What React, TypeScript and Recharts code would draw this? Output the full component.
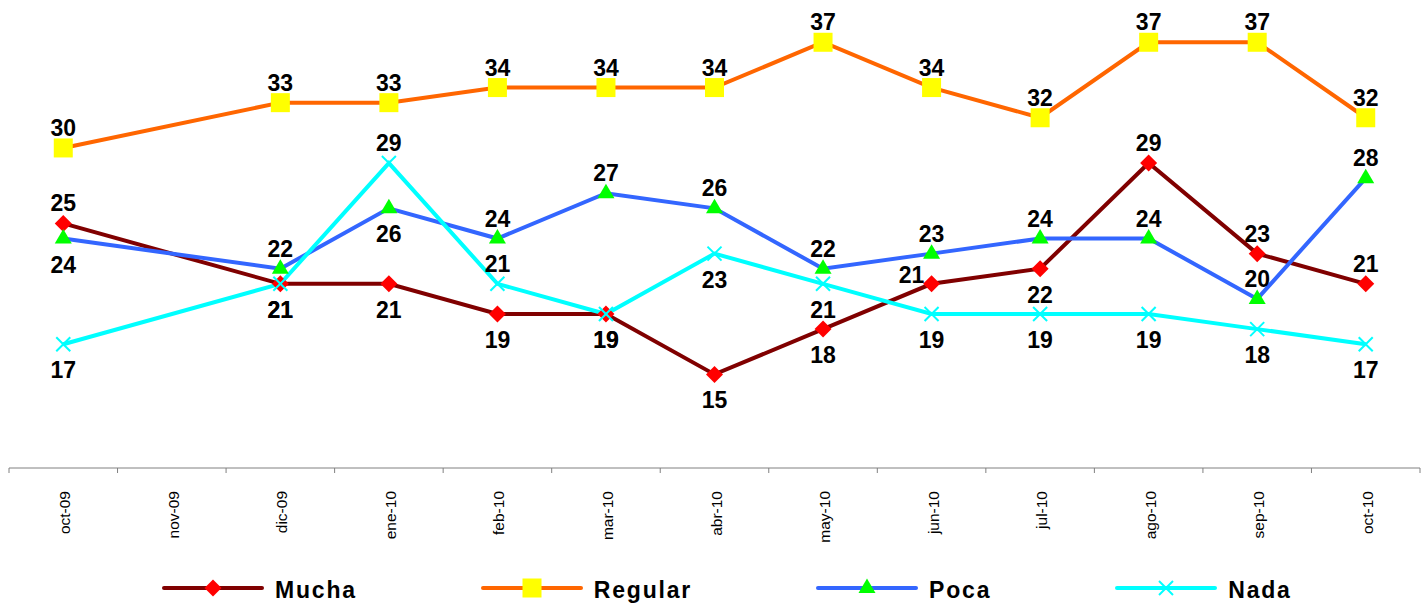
import { LineChart, Line, XAxis, YAxis, Legend, LabelList } from 'recharts';

const months = ['oct-09', 'nov-09', 'dic-09', 'ene-10', 'feb-10', 'mar-10', 'abr-10', 'may-10', 'jun-10', 'jul-10', 'ago-10', 'sep-10', 'oct-10'];
const mucha = [25, null, 21, 21, 19, 19, 15, 18, 21, 22, 29, 23, 21];
const regular = [30, null, 33, 33, 34, 34, 34, 37, 34, 32, 37, 37, 32];
const poca = [24, null, 22, 26, 24, 27, 26, 22, 23, 24, 24, 20, 28];
const nada = [17, null, 21, 29, 21, 19, 23, 21, 19, 19, 19, 18, 17];

// where each data label sits relative to its point
type Side = 'top' | 'bottom' | 'left' | null;
const muchaSides: Side[] = ['top', null, 'bottom', 'bottom', 'bottom', 'bottom', 'bottom', 'bottom', 'left', 'bottom', 'top', 'top', 'top'];
const regularSides: Side[] = ['top', null, 'top', 'top', 'top', 'top', 'top', 'top', 'top', 'top', 'top', 'top', 'top'];
const pocaSides: Side[] = ['bottom', null, 'top', 'bottom', 'top', 'top', 'top', 'top', 'top', 'top', 'top', 'top', 'top'];
const nadaSides: Side[] = ['bottom', null, 'bottom', 'top', 'top', 'bottom', 'bottom', 'bottom', 'bottom', 'bottom', 'bottom', 'bottom', 'bottom'];

const data = months.map((month, i) => ({
  month,
  mucha: mucha[i],
  regular: regular[i],
  poca: poca[i],
  nada: nada[i],
}));

const CHART_W = 1427;
const CHART_H = 605;
const MARGIN = { top: 0, right: 7, left: 9, bottom: 0 };
const HALF_BAND = (CHART_W - MARGIN.left - MARGIN.right) / months.length / 2;
const FONT = '"Liberation Sans", Arial, Helvetica, sans-serif';

const COLORS = {
  mucha: '#800000',
  regular: '#FF6600',
  poca: '#3366FF',
  nada: '#00FFFF',
};

type Marker = 'diamond' | 'square' | 'triangle' | 'cross';

function drawMarker(kind: Marker, cx: number, cy: number) {
  if (kind === 'diamond') {
    return <polygon points={`${cx},${cy - 8.5} ${cx + 8.5},${cy} ${cx},${cy + 8.5} ${cx - 8.5},${cy}`} fill="#FF0000" />;
  }
  if (kind === 'square') {
    return <rect x={cx - 9.5} y={cy - 9.5} width={19} height={19} fill="#FFFF00" />;
  }
  if (kind === 'triangle') {
    return <polygon points={`${cx},${cy - 9.5} ${cx + 8.5},${cy + 5} ${cx - 8.5},${cy + 5}`} fill="#00FF00" />;
  }
  return (
    <g stroke="#00FFFF" strokeWidth={2}>
      <line x1={cx - 7} y1={cy - 7} x2={cx + 7} y2={cy + 7} />
      <line x1={cx - 7} y1={cy + 7} x2={cx + 7} y2={cy - 7} />
    </g>
  );
}

const makeDot = (kind: Marker) => (props: any) => {
  const { cx, cy, index, value } = props;
  if (value == null || cx == null || cy == null) return <g key={`dot-${kind}-${index}`} />;
  return <g key={`dot-${kind}-${index}`}>{drawMarker(kind, cx, cy)}</g>;
};

const makeLabel = (sides: Side[]) => (props: any) => {
  const { index, value } = props;
  const x = props.x ?? props.viewBox?.x;
  const y = props.y ?? props.viewBox?.y;
  if (value == null || x == null || y == null) return null;
  const side = sides[index];
  let tx = x;
  let ty = y - 12;
  if (side === 'bottom') ty = y + 34;
  if (side === 'left') {
    tx = x - 20;
    ty = y - 1;
  }
  return (
    <text x={tx} y={ty} textAnchor="middle" fontSize={23} fontWeight="bold" fill="#000" fontFamily={FONT}>
      {value}
    </text>
  );
};

function MonthTick(props: any) {
  const { x, y, payload, index } = props;
  const last = index === months.length - 1;
  return (
    <g>
      <line x1={x - HALF_BAND} y1={y} x2={x - HALF_BAND} y2={y + 5} stroke="#808080" />
      {last && <line x1={x + HALF_BAND} y1={y} x2={x + HALF_BAND} y2={y + 5} stroke="#808080" />}
      <text
        transform={`translate(${x + 7}, ${y + 23}) rotate(-90)`}
        textAnchor="end"
        fontSize={15.5}
        fill="#000"
        fontFamily={FONT}
      >
        {payload.value}
      </text>
    </g>
  );
}

const legendItems: { name: string; color: string; marker: Marker }[] = [
  { name: 'Mucha', color: COLORS.mucha, marker: 'diamond' },
  { name: 'Regular', color: COLORS.regular, marker: 'square' },
  { name: 'Poca', color: COLORS.poca, marker: 'triangle' },
  { name: 'Nada', color: COLORS.nada, marker: 'cross' },
];

function ChartLegend() {
  return (
    <div
      style={{
        display: 'flex',
        alignItems: 'center',
        gap: 124,
        paddingLeft: 162,
        height: 30,
        fontFamily: FONT,
        fontWeight: 'bold',
        fontSize: 23,
        letterSpacing: 1.8,
        color: '#000',
      }}
    >
      {legendItems.map((item) => (
        <div key={item.name} style={{ display: 'flex', alignItems: 'center' }}>
          <svg width={102} height={24} style={{ display: 'block' }}>
            <line x1={2} y1={10} x2={100} y2={10} stroke={item.color} strokeWidth={4} strokeLinecap="round" />
            {drawMarker(item.marker, 51, 10)}
          </svg>
          <span style={{ marginLeft: 11, lineHeight: '30px' }}>{item.name}</span>
        </div>
      ))}
    </div>
  );
}

export default function App() {
  return (
    <div style={{ position: 'absolute', left: 0, top: 0, width: CHART_W, height: CHART_H, background: '#fff', fontFamily: FONT }}>
      <LineChart width={CHART_W} height={CHART_H} data={data} margin={MARGIN}>
        <XAxis
          dataKey="month"
          scale="band"
          interval={0}
          tickLine={false}
          tickSize={0}
          tickMargin={0}
          axisLine={{ stroke: '#808080', strokeWidth: 1 }}
          tick={<MonthTick />}
          height={107}
        />
        <YAxis hide domain={[8.8, 39.8]} allowDataOverflow />
        <Legend
          verticalAlign="bottom"
          content={() => <ChartLegend />}
          wrapperStyle={{ left: 0, width: CHART_W, height: 30 }}
        />
        <Line
          dataKey="mucha"
          stroke={COLORS.mucha}
          strokeWidth={4}
          connectNulls
          isAnimationActive={false}
          dot={makeDot('diamond')}
          activeDot={false}
        >
          <LabelList dataKey="mucha" content={makeLabel(muchaSides)} />
        </Line>
        <Line
          dataKey="regular"
          stroke={COLORS.regular}
          strokeWidth={4}
          connectNulls
          isAnimationActive={false}
          dot={makeDot('square')}
          activeDot={false}
        >
          <LabelList dataKey="regular" content={makeLabel(regularSides)} />
        </Line>
        <Line
          dataKey="poca"
          stroke={COLORS.poca}
          strokeWidth={4}
          connectNulls
          isAnimationActive={false}
          dot={makeDot('triangle')}
          activeDot={false}
        >
          <LabelList dataKey="poca" content={makeLabel(pocaSides)} />
        </Line>
        <Line
          dataKey="nada"
          stroke={COLORS.nada}
          strokeWidth={4}
          connectNulls
          isAnimationActive={false}
          dot={makeDot('cross')}
          activeDot={false}
        >
          <LabelList dataKey="nada" content={makeLabel(nadaSides)} />
        </Line>
      </LineChart>
    </div>
  );
}
